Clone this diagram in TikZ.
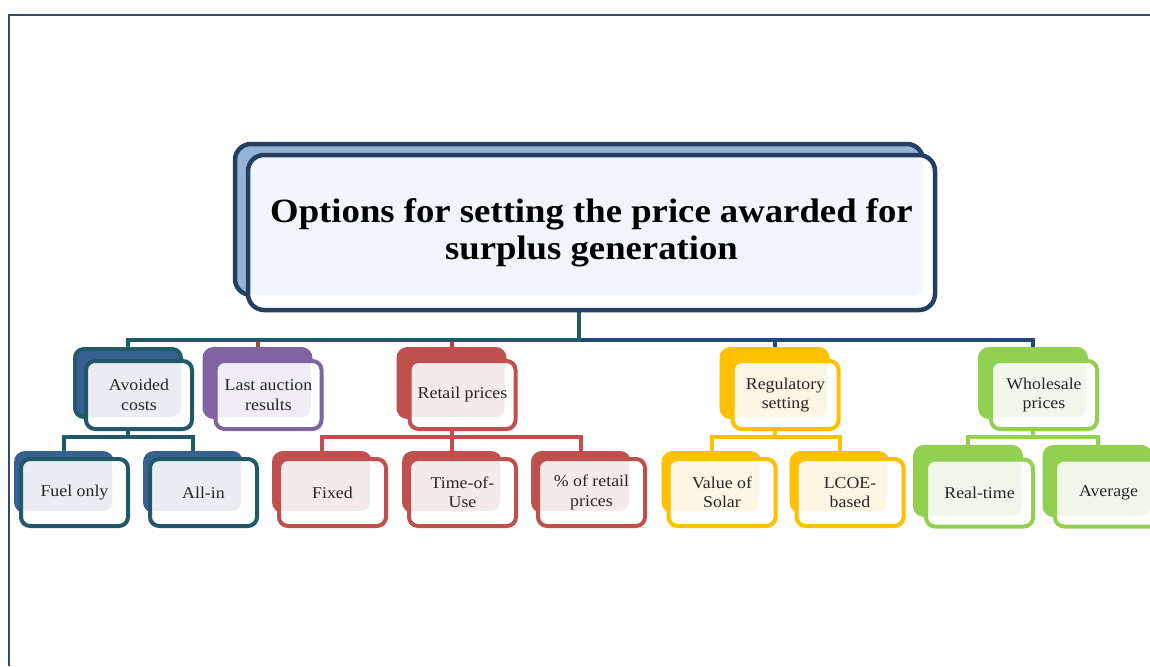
\documentclass[tikz,border=0pt]{standalone}
\usepackage{fontspec}
\setmainfont{Liberation Serif}[FakeStretch=1.08]
\usetikzlibrary{positioning,calc,backgrounds}

\definecolor{navy}{HTML}{243F60}
\definecolor{titleback}{HTML}{95B3D7}
\definecolor{titletint}{HTML}{F2F5F9}
\definecolor{teal}{HTML}{215968}
\definecolor{steel}{HTML}{376092}
\definecolor{tealtint}{HTML}{EAEEF2}
\definecolor{purple}{HTML}{8064A2}
\definecolor{purpletint}{HTML}{F0EDF4}
\definecolor{rust}{HTML}{C0504D}
\definecolor{rustdark}{HTML}{A94442}
\definecolor{rusttint}{HTML}{F5EAEA}
\definecolor{gold}{HTML}{FFC000}
\definecolor{goldtint}{HTML}{FEF6E4}
\definecolor{leaf}{HTML}{92D050}
\definecolor{leaftint}{HTML}{F1F8EB}
\definecolor{busblue}{HTML}{1F497D}
\definecolor{framecol}{HTML}{2E4A6F}
\definecolor{ink}{HTML}{262626}

\begin{document}
\begin{tikzpicture}[x=1pt, y=-1pt,
  tint at/.code n args={4}{\def\tnwx{#1}\def\tnwy{#2}\def\tsex{#3}\def\tsey{#4}},
  tint at={-11}{-12}{-11}{-12},
  box/.style={rectangle, rounded corners=9pt, line width=4pt, outer sep=0pt,
              inner sep=1pt, align=center, text=ink,
              font=\fontsize{16.5}{19.5}\selectfont},
  lvlone/.style={box, minimum width=106pt, minimum height=68pt},
  lvltwo/.style={box, minimum width=107pt, minimum height=67pt,
                 tint at={-5}{-6}{-16}{-15}},
  lvltwobk/.style={box, minimum width=96pt, minimum height=58pt},
  titlebox/.style={box, rounded corners=16pt, line width=4.5pt,
                   font=\fontsize{34}{37}\selectfont\bfseries, text=black},
  backbox/.style 2 args={draw=#1, fill=#2},
  frontbox/.style 2 args={draw=#1, fill=white,
    path picture={\fill[#2, rounded corners=9pt]
      ([shift={(\tnwx,\tnwy)}]path picture bounding box.north west) rectangle
      ([shift={(\tsex,\tsey)}]path picture bounding box.south east);}},
  conn/.style={draw=#1, line width=4pt},
  frame/.style={draw=framecol, line width=2.5pt}
]
\useasboundingbox (0,0) rectangle (1150,666);
\clip (0,0) rectangle (1150,666);

\draw[frame] (9,666) -- (9,15) -- (1150,15);

% title
\node[titlebox, backbox={navy}{titleback}, minimum width=688pt, minimum height=151pt] (titlebk) at (579,219.5) {};
\node[titlebox, frontbox={navy}{titletint}, tint at={-13}{-11}{-12}{-15},
      minimum width=687pt, minimum height=155pt] (title) at (591.5,232.5)
  {Options for setting the price awarded for\\surplus generation};

% level one
\node[lvlone, backbox={teal}{steel}]   (avoidedbk)   at (128,383) {};
\node[lvlone, backbox={purple}{purple}] (auctionbk)  at (257.5,383) {};
\node[lvlone, backbox={rust}{rust}]     (retailbk)   at (451.5,383) {};
\node[lvlone, backbox={gold}{gold}]     (regbk)      at (774.5,383) {};
\node[lvlone, backbox={leaf}{leaf}]     (wholesalebk) at (1033,383) {};

\node[lvlone, frontbox={teal}{tealtint}]     (avoided)   at (139,395)   {Avoided\\costs};
\node[lvlone, frontbox={purple}{purpletint}] (auction)   at (268.5,395) {Last auction\\results};
\node[lvlone, frontbox={rust}{rusttint}]     (retail)    at (462.5,395) {Retail prices};
\node[lvlone, frontbox={gold}{goldtint}]     (reg)       at (785.5,395) {Regulatory\\setting};
\node[lvlone, frontbox={leaf}{leaftint}]     (wholesale) at (1044,395)  {Wholesale\\prices};

% level two
\node[lvltwobk, backbox={steel}{steel}] (fuelbk)  at (64,482) {};
\node[lvltwobk, backbox={steel}{steel}] (allinbk) at (193,482) {};
\node[lvltwobk, backbox={rust}{rust}]   (fixedbk) at (322,482) {};
\node[lvltwobk, backbox={rust}{rust}]   (toubk)   at (452,482) {};
\node[lvltwobk, backbox={rust}{rust}]   (sharebk) at (581,482) {};
\node[lvltwobk, backbox={gold}{gold}]   (solarbk) at (711.5,482) {};
\node[lvltwobk, backbox={gold}{gold}]   (lcoebk)  at (839.5,482) {};
\node[lvlone, backbox={leaf}{leaf}]     (realbk)  at (968,481) {};
\node[lvlone, backbox={leaf}{leaf}]     (avgbk)   at (1097.5,481) {};

\node[lvltwo, frontbox={teal}{tealtint}] (fuel)  at (74.5,492.5)  {Fuel only};
\node[lvltwo, frontbox={teal}{tealtint}] (allin) at (203.5,492.5) {All-in};
\node[lvltwo, frontbox={rust}{rusttint}] (fixed) at (332.5,492.5) {Fixed};
\node[lvltwo, frontbox={rust}{rusttint}] (tou)   at (462.5,492.5) {Time-of-\\Use};
\node[lvltwo, frontbox={rust}{rusttint}] (share) at (591.5,492.5) {\% of retail\\prices};
\node[lvltwo, frontbox={gold}{goldtint}] (solar) at (722,492.5)   {Value of\\Solar};
\node[lvltwo, frontbox={gold}{goldtint}] (lcoe)  at (850,492.5)   {LCOE-\\based};
\node[lvltwo, frontbox={leaf}{leaftint}, tint at={-11}{-12}{-12}{-11}] (real) at (979.5,493) {Real-time};
\node[lvltwo, frontbox={leaf}{leaftint}, tint at={-11}{-12}{-12}{-11}] (avg)  at (1108.5,493) {Average};

% connectors
\begin{pgfonlayer}{background}
\coordinate (busA) at (0,340);
\coordinate (busB) at (0,437);
\draw[conn=busblue]  (titlebk.south) -- (titlebk.south |- busA) -| (wholesalebk.north);
\draw[conn=busblue]  (titlebk.south) -- (titlebk.south |- busA) -| (regbk.north);
\draw[conn=rustdark] (titlebk.south) -- (titlebk.south |- busA) -| (retailbk.north);
\draw[conn=rustdark] (titlebk.south) -- (titlebk.south |- busA) -| (auctionbk.north);
\draw[conn=teal]     (titlebk.south) -- (titlebk.south |- busA) -| (avoidedbk.north);

\draw[conn=teal] (avoidedbk.south) -- (avoidedbk.south |- busB) -| (fuelbk.north);
\draw[conn=teal] (avoidedbk.south) -- (avoidedbk.south |- busB) -| (allinbk.north);
\draw[conn=rust] (retailbk.south) -- (retailbk.south |- busB) -| (fixedbk.north);
\draw[conn=rust] (retailbk.south) -- (retailbk.south |- busB) -| (toubk.north);
\draw[conn=rust] (retailbk.south) -- (retailbk.south |- busB) -| (sharebk.north);
\draw[conn=gold] (regbk.south) -- (regbk.south |- busB) -| (solarbk.north);
\draw[conn=gold] (regbk.south) -- (regbk.south |- busB) -| (lcoebk.north);
\draw[conn=leaf] (wholesalebk.south) -- (wholesalebk.south |- busB) -| (realbk.north);
\draw[conn=leaf] (wholesalebk.south) -- (wholesalebk.south |- busB) -| (avgbk.north);
\end{pgfonlayer}
\end{tikzpicture}
\end{document}
